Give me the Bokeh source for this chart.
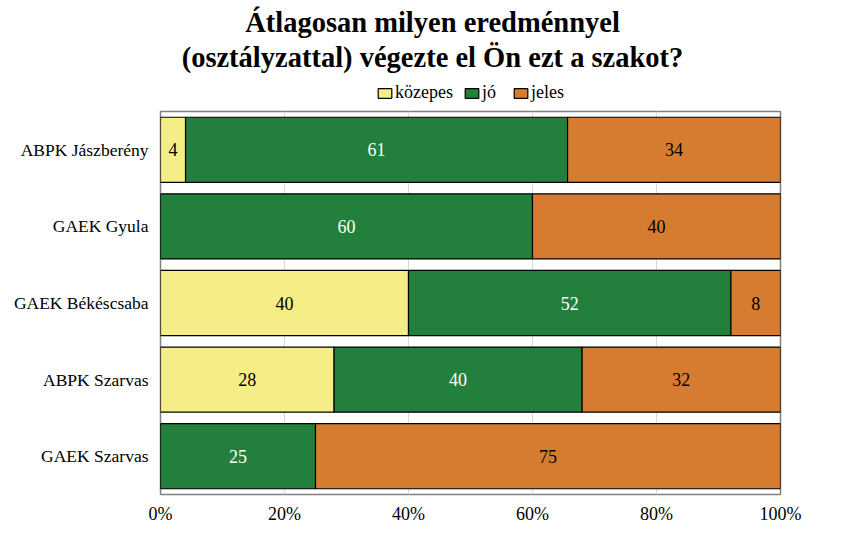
from bokeh.plotting import figure
from bokeh.models import (ColumnDataSource, Legend, FixedTicker, Range1d, FactorRange,
                          PrintfTickFormatter)
from bokeh.layouts import column
from bokeh.core.properties import value
from bokeh.embed import file_html
from bokeh.resources import INLINE

# --- data ---
title_lines = ["Átlagosan milyen eredménnyel", "(osztályzattal) végezte el Ön ezt a szakot?"]
schools = ["ABPK Jászberény", "GAEK Gyula", "GAEK Békéscsaba", "ABPK Szarvas", "GAEK Szarvas"]
grades = ["közepes", "jó", "jeles"]
kozepes = [4, 0, 40, 28, 0]
jo = [61, 60, 52, 40, 25]
jeles = [34, 40, 8, 32, 75]
x_ticks = [0, 20, 40, 60, 80, 100]

colors = ["#F5EE86", "#23803C", "#D67C30"]
label_colors = ["black", "white", "black"]
FONT = "Liberation Serif"

# bars are drawn as share of the row total (100% stacked)
series = [kozepes, jo, jeles]
totals = [sum(v) for v in zip(*series)]
data = {"school": schools}
for g, vals in zip(grades, series):
    data[g] = [v / t * 100 for v, t in zip(vals, totals)]
src = ColumnDataSource(data)

# value labels centred in each segment
lx, ly, lt, lc = [], [], [], []
for i, s in enumerate(schools):
    left = 0
    for g, vals, c in zip(grades, series, label_colors):
        share = data[g][i]
        if vals[i] > 0:
            lx.append(left + share / 2)
            ly.append(s)
            lt.append(str(vals[i]))
            lc.append(c)
        left += share
lab_src = ColumnDataSource(dict(x=lx, y=ly, text=lt, color=lc))

W = 860
L, R = 160, 80  # side borders shared by both figures so their frames line up

# --- header strip: title + legend ---
hd = figure(width=W, height=108, x_range=Range1d(0, 620), y_range=Range1d(0, 108),
            output_backend="svg", toolbar_location=None, x_axis_location=None,
            y_axis_location=None, min_border_left=L, min_border_right=R,
            min_border_top=0, min_border_bottom=0)
hd.grid.visible = False
hd.outline_line_color = None
hd.text(x=[272, 272], y=[86, 51], text=title_lines, text_align="center",
        text_baseline="alphabetic", text_font=value(FONT), text_font_style="bold",
        text_font_size="28.5px", text_color="black")

# legend swatches: the same stack, parked below the header's visible range
hd_src = ColumnDataSource(dict(data, pos=[-100] * len(schools)))
swatches = hd.hbar_stack(grades, y="pos", height=1, color=colors, line_color="black",
                         line_width=1.2, source=hd_src)
legend = Legend(items=[(g, [r]) for g, r in zip(grades, swatches)], orientation="horizontal",
                location="bottom_center", border_line_color=None, background_fill_alpha=0,
                padding=2, margin=5, spacing=10, label_standoff=2,
                glyph_width=17, glyph_height=12, label_text_font=FONT,
                label_text_font_size="18px", label_text_color="black")
hd.add_layout(legend)

# --- main chart ---
p = figure(width=W, height=420, y_range=FactorRange(factors=list(reversed(schools))),
           x_range=Range1d(0, 100), output_backend="svg", toolbar_location=None,
           min_border_left=L, min_border_right=R, min_border_top=3, min_border_bottom=34)

p.hbar_stack(grades, y="school", height=0.85, color=colors, line_color="black",
             line_width=1.2, source=src)
p.text(x="x", y="y", text="text", text_color="color", text_align="center",
       text_baseline="middle", text_font=value(FONT), text_font_size="18px", source=lab_src)

p.xaxis.ticker = FixedTicker(ticks=x_ticks)
p.xaxis.formatter = PrintfTickFormatter(format="%d%%")
for ax in (p.xaxis[0], p.yaxis[0]):
    ax.axis_line_color = None
    ax.major_tick_line_color = None
    ax.minor_tick_line_color = None
    ax.major_label_text_font = FONT
    ax.major_label_text_color = "black"
p.xaxis.major_label_text_font_size = "18px"
p.xaxis.major_label_standoff = 3
p.yaxis.major_label_text_font_size = "17.5px"
p.yaxis.major_label_standoff = 6

p.xgrid.grid_line_color = "#d9d9d9"
p.ygrid.grid_line_color = None
p.outline_line_color = "#808080"
p.outline_line_width = 1.5

layout = column(hd, p, spacing=0)
open("out.html", "w").write(file_html(layout, INLINE))
